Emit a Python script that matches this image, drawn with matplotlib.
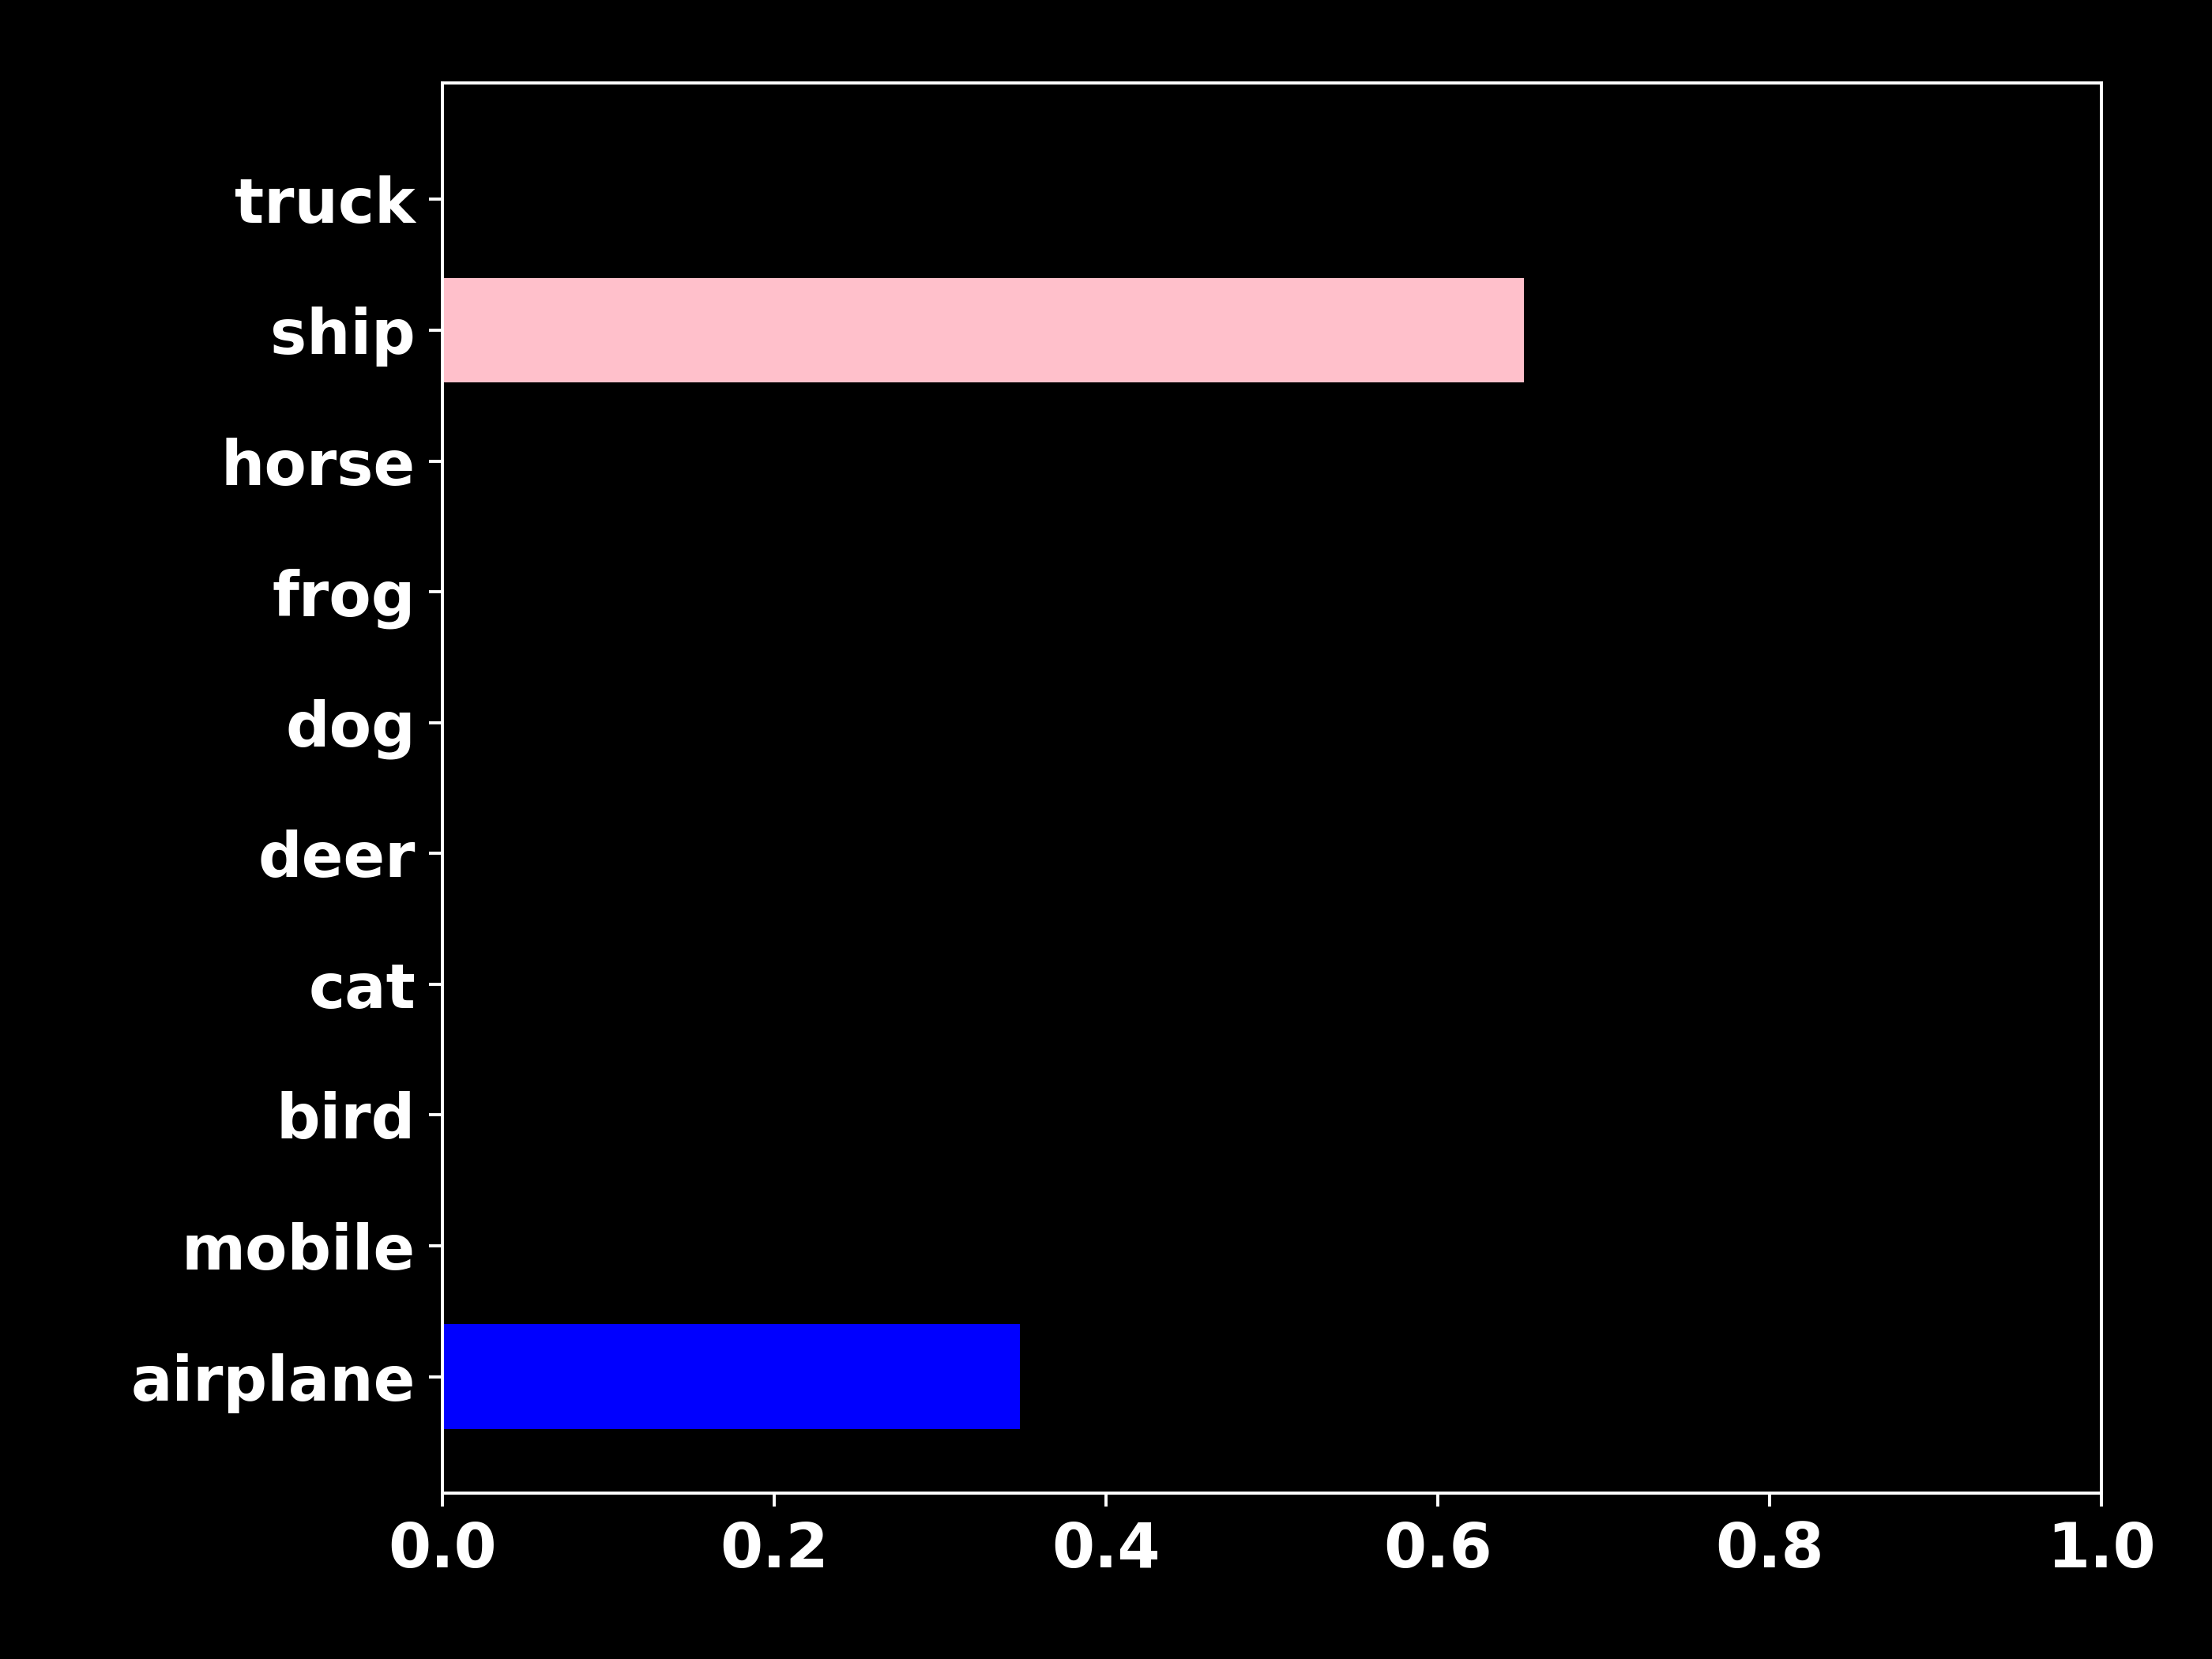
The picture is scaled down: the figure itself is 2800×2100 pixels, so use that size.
import matplotlib
matplotlib.use("Agg")
import matplotlib.pyplot as plt

classes = ['airplane', 'mobile', 'bird', 'cat', 'deer', 'dog', 'frog', 'horse', 'ship', 'truck']
probs = [0.348, 0.0, 0.0, 0.0, 0.0, 0.0, 0.0, 0.0, 0.652, 0.0]
colors = ['blue', 'orange', 'green', 'red', 'purple', 'brown', 'gray', 'olive', 'pink', 'cyan']

plt.style.use('dark_background')
fig, ax = plt.subplots(figsize=(8, 6), dpi=350)
fig.subplots_adjust(left=0.2, right=0.95, bottom=0.1, top=0.95)

ax.barh(range(len(classes)), probs, color=colors)
ax.set_yticks(range(len(classes)))
ax.set_yticklabels(classes, fontsize=16, fontweight='bold')
ax.set_xlim(0, 1)
for lbl in ax.get_xticklabels():
    lbl.set_fontsize(16)
    lbl.set_fontweight('bold')

fig.savefig('out.png')
